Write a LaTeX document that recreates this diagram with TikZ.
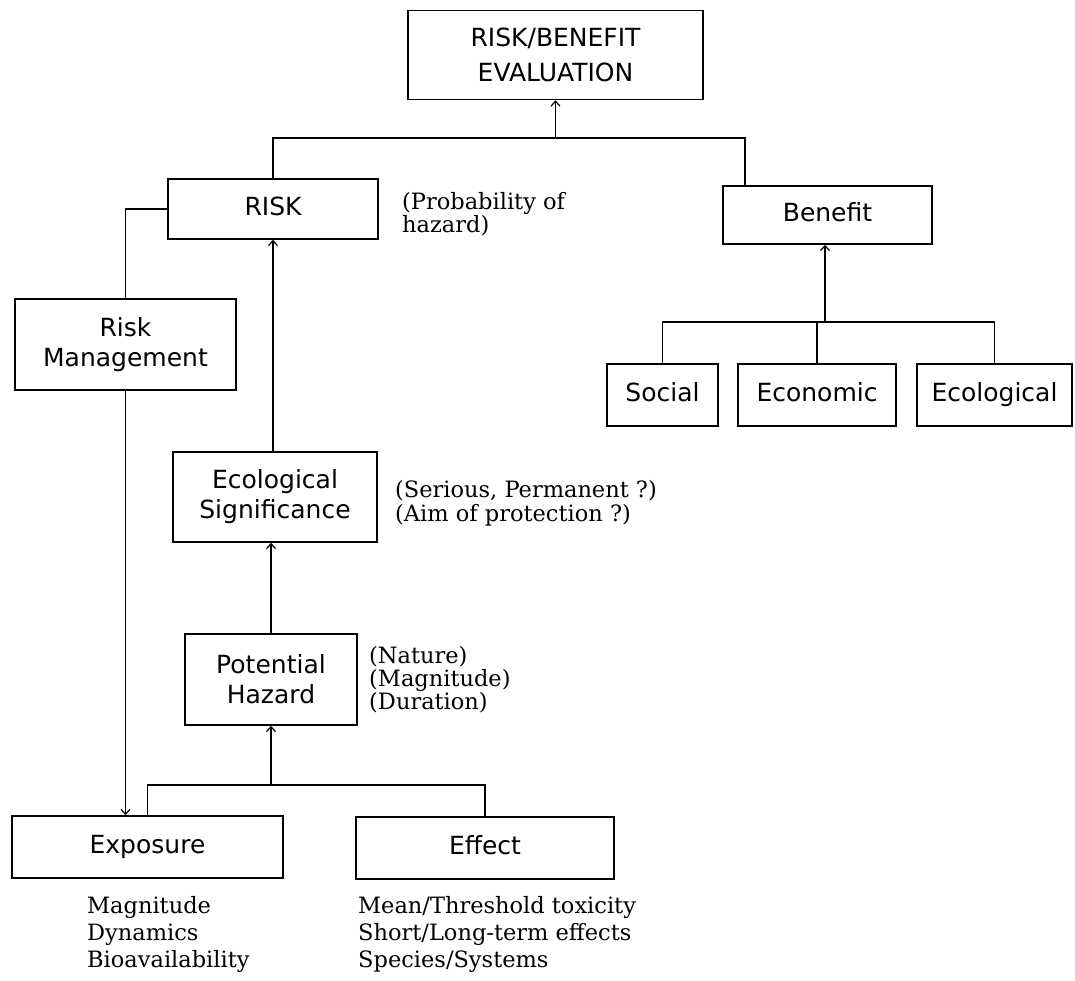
\documentclass[tikz,border=0pt]{standalone}
\usepackage{fontspec}
\setmainfont{DejaVu Serif}
\newfontfamily\boxfont{DejaVu Sans}
\usetikzlibrary{arrows.meta,calc}
\begin{document}
\begin{tikzpicture}[x=1pt,y=-1pt,
  box/.style={draw,line width=1.6pt,inner sep=0pt,align=center,font=\boxfont\fontsize{25}{30}\selectfont},
  single/.style={text height=18pt,text depth=5pt},
  conn/.style={line width=1.3pt},
  arr/.style={conn,-{Straight Barb[length=5pt,width=9pt,line width=1.2pt]}},
  note/.style={inner sep=0pt,align=left,anchor=west,font=\fontsize{22.5}{23}\selectfont},
  lst/.style={inner sep=0pt,align=left,anchor=west,font=\fontsize{22.5}{27}\selectfont}]
\useasboundingbox (0,0) rectangle (1075,981);

\node[box,font=\boxfont\fontsize{25}{35}\selectfont,minimum width=295pt,minimum height=89pt] (top) at (555.5,55) {RISK/BENEFIT\\EVALUATION};
\node[box,single,minimum width=210pt,minimum height=60pt] (risk) at (273,209) {RISK};
\node[box,single,minimum width=209pt,minimum height=58pt] (benefit) at (827.5,215) {Benefit};
\node[box,single,minimum width=111pt,minimum height=62pt] (social) at (662.5,395) {Social};
\node[box,single,minimum width=158pt,minimum height=62pt] (economic) at (817,395) {Economic};
\node[box,single,minimum width=155pt,minimum height=62pt] (ecological) at (994.5,395) {Ecological};
\node[box,minimum width=221pt,minimum height=91pt] (rm) at (125.5,344.5) {Risk\\Management};
\node[box,minimum width=204pt,minimum height=90pt] (es) at (275,497) {Ecological\\Significance};
\node[box,minimum width=172pt,minimum height=91pt] (ph) at (271,679.5) {Potential\\Hazard};
\node[box,single,minimum width=271pt,minimum height=62pt] (exposure) at (147.5,847) {Exposure};
\node[box,single,minimum width=258pt,minimum height=62pt] (effect) at (485,848) {Effect};

\node[note] (probnote) at (402,214) {(Probability of\\hazard)};
\node[note,font=\fontsize{22.5}{24}\selectfont] (signote) at (395,503) {(Serious, Permanent ?)\\(Aim of protection ?)};
\node[note] (hazardnote) at (369,680) {(Nature)\\(Magnitude)\\(Duration)};
\node[lst] (explist) at (87,934) {Magnitude\\Dynamics\\Bioavailability};
\node[lst] (efflist) at (358,934) {Mean/Threshold toxicity\\Short/Long-term effects\\Species/Systems};

% top level
\coordinate (b1) at (555.5,138);
\coordinate (b1r) at (745,138);
\draw[conn] (risk.north) -- (risk.north |- b1) -- (b1r) -- (b1r |- benefit.north);
\draw[arr] (top.south |- b1) -- (top.south);

% benefit branch
\coordinate (b2) at (825,322);
\draw[conn] (social.north) -- (social.north |- b2) -- (ecological.north |- b2) -- (ecological.north);
\draw[conn] (economic.north) -- (economic.north |- b2);
\draw[arr] (b2) -- (b2 |- benefit.south);

% risk branch
\draw[conn] (risk.west) -| (rm.north);
\draw[arr] (rm.south) -- (rm.south |- exposure.north);
\draw[arr] (risk.south |- es.north) -- (risk.south);
\draw[arr] (ph.north) -- (ph.north |- es.south);

\coordinate (b3) at (271,785);
\draw[conn] (exposure.north) -- (exposure.north |- b3) -- (effect.north |- b3) -- (effect.north);
\draw[arr] (b3) -- (ph.south);
\end{tikzpicture}
\end{document}
